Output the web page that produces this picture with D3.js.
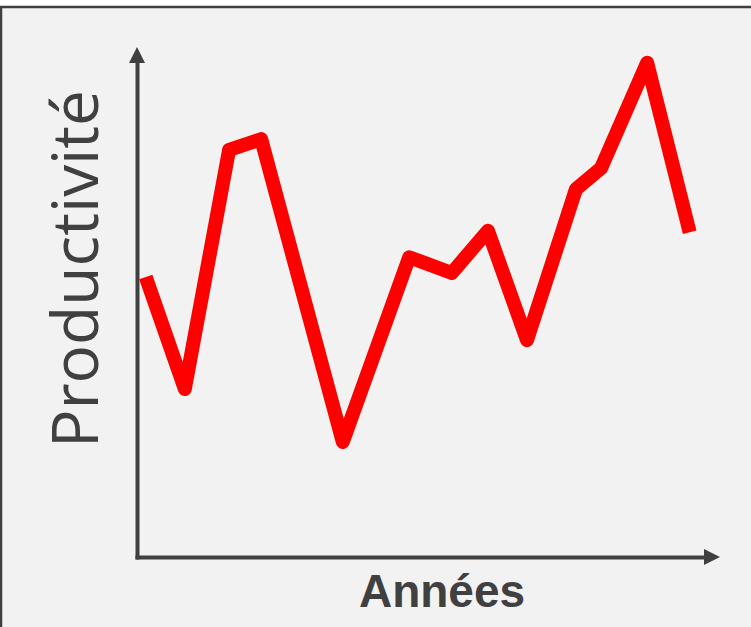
<!DOCTYPE html>
<html>
<head>
<meta charset="utf-8">
<script src="https://cdn.jsdelivr.net/npm/d3@7"></script>
<style>
  html, body { margin: 0; padding: 0; background: #ffffff; }
  svg { display: block; }
</style>
</head>
<body>
<svg id="chart" width="751" height="627"></svg>
<script>
// Data (positions along the "Années" axis, on a 0–100 scale, and productivity values 0–100)
const annees = [1.5, 8.2, 15.8, 21.3, 35.3, 46.7, 54.0, 60.2, 66.9, 75.3, 79.6, 87.5, 94.8];
const productivite = [54.8, 32.8, 79.8, 81.9, 22.4, 58.7, 55.6, 63.9, 42.4, 72.1, 76.2, 96.9, 63.6];
const xLabel = "Années";
const yLabel = "Productivité";

const svg = d3.select("#chart");
const ink = "#404040";

// Frame
svg.append("rect")
  .attr("x", 1).attr("y", 7)
  .attr("width", 800).attr("height", 700)
  .attr("fill", "#f2f2f2")
  .attr("stroke", ink).attr("stroke-width", 2.5);

const x = d3.scaleLinear().domain([0, 100]).range([137, 720]);
const y = d3.scaleLinear().domain([0, 100]).range([556, 47]);

// Axes (no ticks), via d3 axis generators
const x0 = x.range()[0], y0 = 557;
const yAxisG = svg.append("g").attr("transform", `translate(${x0},0)`)
  .call(d3.axisLeft(d3.scaleLinear().range([y0 + 2, y.range()[1] + 14])).tickValues([]).tickSizeOuter(0));
const xAxisG = svg.append("g").attr("transform", `translate(0,${y0})`)
  .call(d3.axisBottom(d3.scaleLinear().range([x0 - 2, x.range()[1] - 14])).tickValues([]).tickSizeOuter(0));
[yAxisG, xAxisG].forEach(g => g.select(".domain")
  .attr("stroke", ink).attr("stroke-width", 4).attr("stroke-linecap", "butt").attr("fill", "none"));

// Arrowheads
const yTop = y.range()[1], xEnd = x.range()[1];
svg.append("path")
  .attr("d", `M${x0 - 8},${yTop + 16}L${x0 + 8},${yTop + 16}L${x0},${yTop}Z`)
  .attr("fill", ink);
svg.append("path")
  .attr("d", `M${xEnd - 16},${y0 - 8}L${xEnd - 16},${y0 + 8}L${xEnd},${y0}Z`)
  .attr("fill", ink);

// Line
const line = d3.line().x((d, i) => x(annees[i])).y(d => y(d));
svg.append("path")
  .attr("d", line(productivite))
  .attr("fill", "none")
  .attr("stroke", "#ff0000")
  .attr("stroke-width", 14)
  .attr("stroke-linejoin", "round")
  .attr("stroke-linecap", "butt");

// Labels
svg.append("text")
  .attr("x", 442).attr("y", 607)
  .attr("text-anchor", "middle")
  .attr("font-family", "'Liberation Sans', Arial, sans-serif")
  .attr("font-weight", "bold")
  .attr("font-size", 46)
  .attr("fill", ink)
  .text(xLabel);

svg.append("text")
  .attr("transform", "translate(98,269) rotate(-90)")
  .attr("text-anchor", "middle")
  .attr("font-family", "'Open Sans', sans-serif")
  .attr("font-size", 64)
  .attr("fill", ink)
  .text(yLabel);
</script>
</body>
</html>
